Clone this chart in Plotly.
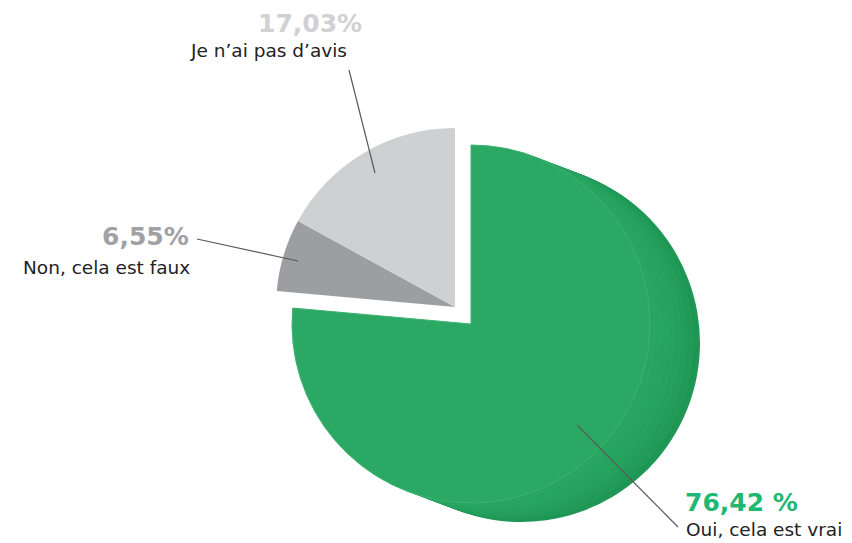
import plotly.graph_objects as go

# ---- data ----
categories = ["Oui, cela est vrai", "Non, cela est faux", "Je n’ai pas d’avis"]
values = [76.42, 6.55, 17.03]
value_labels = ["76,42 %", "6,55%", "17,03%"]

W, H = 852, 543
OFF = 8  # page body margin offset

# ---- style / layout ----
FACE_GREEN = "#2ba864"
DARK_GRAY = "#9d9ea1"
LIGHT_GRAY = "#cfd0d2"
TRANSP = "rgba(0,0,0,0)"

R = 179
FACE_C = (471, 324)
GRAY_C = (455, 307)
DEPTH = (50, 19)
N_LAYERS = 16


def px(x, y):
    return (x - OFF) / W, 1 - (y - OFF) / H


def dom(cx, cy, r):
    x0, y1 = px(cx - r, cy - r)
    x1, y0 = px(cx + r, cy + r)
    return dict(x=[x0, x1], y=[y0, y1])


def pie(cx, cy, colors, line_colors=None, line_w=0):
    return go.Pie(
        labels=categories, values=values, sort=False, direction="clockwise",
        rotation=0, textinfo="none", hoverinfo="skip", showlegend=False,
        domain=dom(cx, cy, R),
        marker=dict(colors=colors,
                    line=dict(color=line_colors or [TRANSP] * 3, width=line_w)),
    )


def mix(c1, c2, t):
    a = [int(c1[i:i + 2], 16) for i in (1, 3, 5)]
    b = [int(c2[i:i + 2], 16) for i in (1, 3, 5)]
    return "#" + "".join(f"{round(a[i] + (b[i] - a[i]) * t):02x}" for i in range(3))


fig = go.Figure()

# extruded side of the green slice (stacked layers, back to front)
for k in range(N_LAYERS, 0, -1):
    t = k / N_LAYERS
    base = mix("#28a561", "#1c9452", t ** 2)
    if k % 2 == 0:
        base = mix(base, "#34ab6a", 0.15)
    fig.add_trace(pie(FACE_C[0] + DEPTH[0] * t, FACE_C[1] + DEPTH[1] * t,
                      [base, TRANSP, TRANSP]))

# top face of the green slice
fig.add_trace(pie(FACE_C[0], FACE_C[1], [FACE_GREEN, TRANSP, TRANSP],
                  line_colors=["#3db372", TRANSP, TRANSP], line_w=1))

# exploded gray slices
fig.add_trace(pie(GRAY_C[0], GRAY_C[1], [TRANSP, DARK_GRAY, LIGHT_GRAY]))

# ---- leader lines ----
leaders = [((577, 425), (678, 527)), ((197, 239), (298, 261)), ((349, 70), (375, 173))]
shapes = []
for (x0, y0), (x1, y1) in leaders:
    a0, b0 = px(x0, y0)
    a1, b1 = px(x1, y1)
    shapes.append(dict(type="line", xref="paper", yref="paper",
                       x0=a0, y0=b0, x1=a1, y1=b1,
                       line=dict(color="#5a5a5a", width=1.2)))

# ---- labels ----
FONT = "DejaVu Sans"
label_specs = [
    # (value pos, value anchor, value y-anchor, value color, label pos)
    ((684, 502), "left", "middle", "#1fb873", (684, 529)),
    ((190, 237), "right", "middle", "#a0a1a4", (192, 267)),
    ((363, 8), "right", "top", "#d0d1d3", (349, 50)),
]
annotations = []
for i, ((vx, vy), anch, yanch, col, (lx, ly)) in enumerate(label_specs):
    ax_, ay_ = px(vx, vy)
    annotations.append(dict(x=ax_, y=ay_, xref="paper", yref="paper",
                            xanchor=anch, yanchor=yanch, showarrow=False,
                            text=f"<b>{value_labels[i]}</b>", borderpad=0,
                            font=dict(family=FONT, size=25, color=col)))
    bx, by = px(lx, ly)
    annotations.append(dict(x=bx, y=by, xref="paper", yref="paper",
                            xanchor=anch, yanchor="middle", showarrow=False,
                            text=categories[i],
                            font=dict(family=FONT, size=18.5, color="#222222")))

fig.update_layout(
    width=W, height=H,
    margin=dict(l=0, r=0, t=0, b=0),
    paper_bgcolor="white", plot_bgcolor="white",
    shapes=shapes, annotations=annotations,
)

fig.write_html("out.html")
